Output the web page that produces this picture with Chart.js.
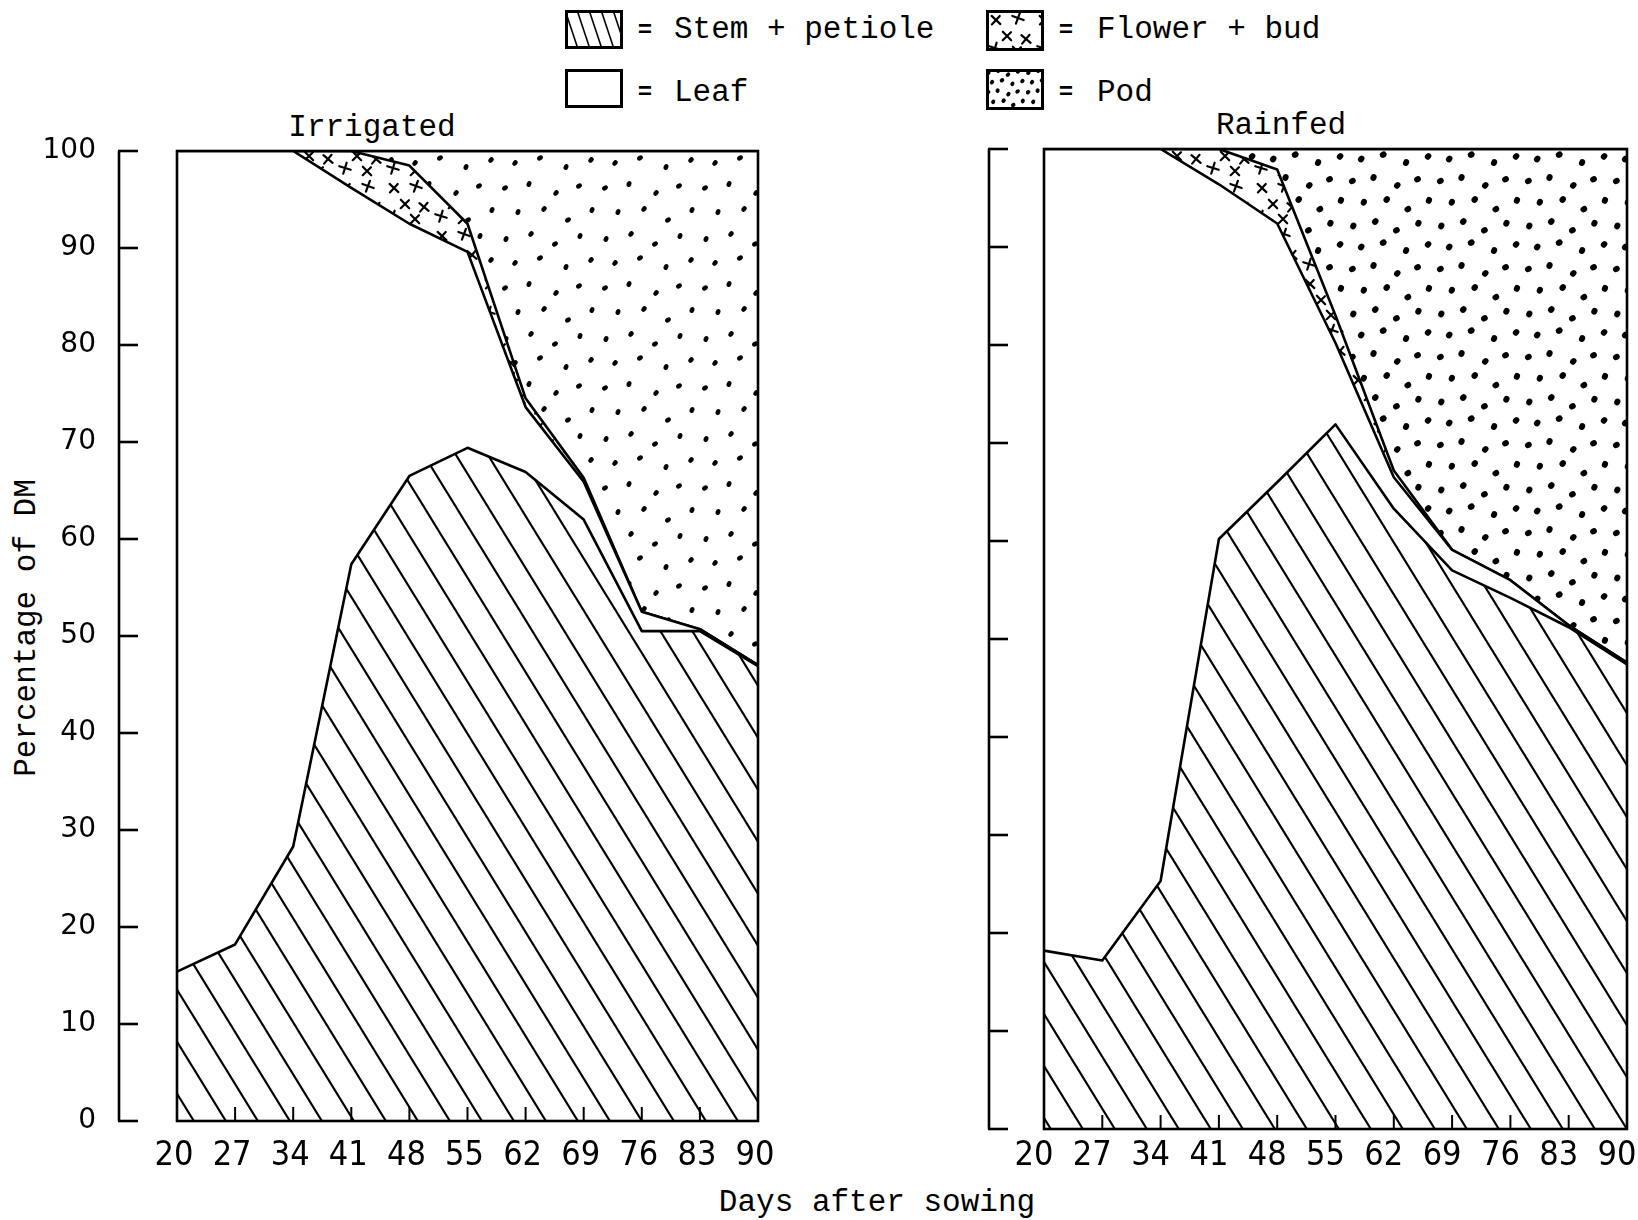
<!DOCTYPE html>
<html>
<head>
<meta charset="utf-8">
<script src="https://cdn.jsdelivr.net/npm/chart.js@4.4.1/dist/chart.umd.min.js"></script>
<style>
html,body{margin:0;padding:0;background:#fff;}
#page{position:relative;width:1638px;height:1220px;background:#fff;overflow:hidden;color:#000;
  font-family:"Liberation Mono","DejaVu Sans Mono",monospace;}
.t{position:absolute;white-space:nowrap;font-size:31px;line-height:1;}
.c{transform:translate(-50%,-50%);}
.l{transform:translateY(-50%);}
.eq{position:absolute;font-size:24px;font-weight:bold;line-height:1;transform:translate(-50%,-50%);}
canvas{position:absolute;display:block;}
</style>
</head>
<body>
<div id="page">
  <canvas id="swStem" width="58" height="39" style="left:565px;top:10px"></canvas>
  <canvas id="swLeaf" width="58" height="39" style="left:565px;top:69px"></canvas>
  <canvas id="swFlower" width="58" height="41" style="left:986px;top:10px"></canvas>
  <canvas id="swPod" width="58" height="41" style="left:986px;top:69px"></canvas>
  <div class="eq" style="left:645px;top:31px">=</div>
  <div class="eq" style="left:645px;top:93px">=</div>
  <div class="eq" style="left:1066px;top:31px">=</div>
  <div class="eq" style="left:1066px;top:93px">=</div>
  <div class="t l" id="lg0" style="left:674px;top:29px"></div>
  <div class="t l" id="lg1" style="left:674px;top:92px"></div>
  <div class="t l" id="lg2" style="left:1097px;top:29px"></div>
  <div class="t l" id="lg3" style="left:1097px;top:92px"></div>
  <div class="t c" id="title0" style="left:372px;top:127px"></div>
  <div class="t c" id="title1" style="left:1281px;top:125px"></div>
  <div class="t c" id="ytitle" style="left:26px;top:628px;transform:translate(-50%,-50%) rotate(-90deg)"></div>
  <div class="t c" id="xtitle" style="left:877px;top:1202px"></div>
  <canvas id="chartIrr" width="800" height="1090" style="left:0px;top:130px;width:800px;height:1090px"></canvas>
  <canvas id="chartRain" width="818" height="1090" style="left:820px;top:130px;width:818px;height:1090px"></canvas>
</div>
<script>
// ---------------- data ----------------
const days = [20, 27, 34, 41, 48, 55, 62, 69, 76, 83, 90];
const dayTickLabels = ['20', '27', '34', '41', '48', '55', '62', '69', '76', '83', '90'];
const percentTicks = [0, 10, 20, 30, 40, 50, 60, 70, 80, 90, 100];
const seriesNames = ['Stem + petiole', 'Leaf', 'Flower + bud', 'Pod'];
const panelTitles = ['Irrigated', 'Rainfed'];
const yAxisTitle = 'Percentage of DM';
const xAxisTitle = 'Days after sowing';

// Irrigated (% of dry matter)
const irrigatedStem   = [15.4, 18.2, 28.3, 57.4, 66.5, 69.4, 66.9, 62.0, 50.5, 50.5, 46.9];
const irrigatedLeaf   = [84.6, 81.8, 71.7, 38.8, 26.0, 20.2, 6.7, 3.9, 2.0, 0.2, 0.1];
const irrigatedFlower = [0, 0, 0, 3.8, 6.0, 2.9, 0.9, 0.4, 0, 0, 0];
const irrigatedPod    = [0, 0, 0, 0, 1.5, 7.5, 25.5, 33.7, 47.5, 49.3, 53.0];

// Rainfed (% of dry matter)
const rainfedStem   = [18.2, 17.2, 25.3, 60.2, 66.0, 71.9, 63.3, 57.0, 54.2, 51.2, 47.4];
const rainfedLeaf   = [81.8, 82.8, 74.7, 36.2, 26.4, 8.3, 3.2, 2.1, 1.8, 0.2, 0.2];
const rainfedFlower = [0, 0, 0, 3.6, 5.5, 2.8, 0.7, 0, 0, 0, 0];
const rainfedPod    = [0, 0, 0, 0, 2.1, 17.0, 32.8, 40.9, 44.0, 48.6, 52.4];

// ---------------- texts ----------------
seriesNames.forEach((n, i) => document.getElementById('lg' + i).textContent = n);
document.getElementById('title0').textContent = panelTitles[0];
document.getElementById('title1').textContent = panelTitles[1];
document.getElementById('ytitle').textContent = yAxisTitle;
document.getElementById('xtitle').textContent = xAxisTitle;

// ---------------- fill patterns ----------------
function hatchTile() {
  const c = document.createElement('canvas'); c.width = 32; c.height = 52;
  const g = c.getContext('2d');
  g.strokeStyle = '#000'; g.lineWidth = 2.2;
  for (let k = -2; k <= 2; k++) {
    g.beginPath();
    g.moveTo(k * 32 - 32, -52);
    g.lineTo(k * 32 + 64, 104);
    g.stroke();
  }
  return c;
}
function crossTile() {
  const c = document.createElement('canvas'); c.width = 48; c.height = 48;
  const g = c.getContext('2d');
  g.strokeStyle = '#000'; g.lineWidth = 2.2; g.lineCap = 'round';
  const marks = [[10, 10, 0.75], [32, 8, 0.35], [21, 26, 0.8], [40, 29, 0.7], [9, 38, 0.3], [31, 41, 0.8]];
  marks.forEach(([x, y, a]) => {
    g.save(); g.translate(x, y); g.rotate(a);
    g.beginPath(); g.moveTo(-6, 0); g.lineTo(6, 0); g.moveTo(0, -5.5); g.lineTo(0, 6); g.stroke();
    g.restore();
  });
  return c;
}
function dotTile(size, rx, ry) {
  const c = document.createElement('canvas'); c.width = size; c.height = size;
  const g = c.getContext('2d'); g.fillStyle = '#000';
  const pts = [[6, 9], [31, 4], [55, 14], [80, 6], [15, 33], [40, 28], [66, 37], [91, 30],
               [5, 58], [29, 54], [56, 63], [79, 56], [18, 82], [44, 79], [68, 90], [92, 80]];
  const s = size / 100;
  pts.forEach(([x, y], i) => {
    g.beginPath();
    g.ellipse(x * s, y * s, rx, ry, 0.4 + (i % 3) * 0.3, 0, Math.PI * 2);
    g.fill();
  });
  return c;
}
const tmp = document.createElement('canvas').getContext('2d');
const hatchPat = tmp.createPattern(hatchTile(), 'repeat');
const crossPat = tmp.createPattern(crossTile(), 'repeat');
const dotPatL = tmp.createPattern(dotTile(100, 2.3, 3.1), 'repeat');
const dotPatR = tmp.createPattern(dotTile(88, 3.0, 3.5), 'repeat');

// legend swatches
(function(){
  const mk = (id, tile) => {
    const cv = document.getElementById(id), g = cv.getContext('2d');
    g.fillStyle = '#fff'; g.fillRect(0, 0, cv.width, cv.height);
    if (tile) { g.fillStyle = g.createPattern(tile, 'repeat'); g.fillRect(0, 0, cv.width, cv.height); }
    g.strokeStyle = '#000'; g.lineWidth = 3;
    g.strokeRect(1.5, 1.5, cv.width - 3, cv.height - 3);
  };
  const smallHatch = (() => { const c = document.createElement('canvas'); c.width = 12; c.height = 36;
    const g = c.getContext('2d'); g.strokeStyle = '#000'; g.lineWidth = 1.6;
    for (let k = -2; k <= 2; k++) { g.beginPath(); g.moveTo(k * 12 - 12, -36); g.lineTo(k * 12 + 24, 72); g.stroke(); }
    return c; })();
  mk('swStem', smallHatch);
  mk('swLeaf', null);
  mk('swFlower', crossTile());
  mk('swPod', dotTile(40, 2.0, 2.4));
})();

// ---------------- frame / detached axis plugin ----------------
function framePlugin(axisX, tickLen) {
  return {
    id: 'frame',
    afterDatasetsDraw(chart) {
      const { ctx, chartArea: a } = chart;
      const x = chart.scales.x, y = chart.scales.y;
      ctx.save();
      ctx.strokeStyle = '#000';
      ctx.lineWidth = 2.6;
      ctx.strokeRect(a.left, a.top, a.right - a.left, a.bottom - a.top);
      ctx.lineWidth = 2;
      dayTickLabels.forEach((lab, i) => {
        const px = x.getPixelForTick(i);
        ctx.beginPath(); ctx.moveTo(px, a.bottom); ctx.lineTo(px, a.bottom - 14); ctx.stroke();
      });
      ctx.lineWidth = 2.6;
      ctx.beginPath();
      ctx.moveTo(axisX, y.getPixelForValue(100));
      ctx.lineTo(axisX, y.getPixelForValue(0));
      ctx.stroke();
      percentTicks.forEach(v => {
        const py = y.getPixelForValue(v);
        ctx.beginPath(); ctx.moveTo(axisX - 1, py); ctx.lineTo(axisX + tickLen, py); ctx.stroke();
      });
      ctx.restore();
    }
  };
}

function ds(label, data, fill, bg) {
  return { label, data, fill, backgroundColor: bg, borderColor: '#000', borderWidth: 2.6,
           pointRadius: 0, pointHoverRadius: 0, tension: 0, borderJoinStyle: 'round' };
}

function buildChart(id, c) {
  return new Chart(document.getElementById(id), {
    type: 'line',
    data: {
      labels: dayTickLabels,
      datasets: [
        ds(seriesNames[0], c.stem, 'origin', hatchPat),
        ds(seriesNames[1], c.leaf, '-1', '#ffffff'),
        ds(seriesNames[2], c.flower, '-1', crossPat),
        ds(seriesNames[3], c.pod, '-1', c.dots)
      ]
    },
    options: {
      responsive: false, animation: false, devicePixelRatio: 1,
      layout: { padding: { left: 0, right: c.padRight, top: c.padTop, bottom: 0 } },
      scales: {
        x: {
          type: 'category', offset: false,
          grid: { display: false, drawTicks: false }, border: { display: false },
          ticks: { autoSkip: false, maxRotation: 0, minRotation: 0, padding: c.xPad, labelOffset: c.labelOffset,
                   color: '#000', font: { family: '"Liberation Sans Narrow","DejaVu Sans Condensed","Liberation Sans",sans-serif', size: 34, lineHeight: 1 } },
          afterFit(s) { s.height = c.xHeight; s.paddingLeft = 0; s.paddingRight = 0; }
        },
        y: {
          stacked: true, min: 0, max: 100,
          grid: { display: false, drawTicks: false }, border: { display: false },
          afterBuildTicks(s) { s.ticks = percentTicks.map(v => ({ value: v })); },
          ticks: { display: c.showY, padding: c.yPad, color: '#000',
                   font: { family: '"DejaVu Sans",sans-serif', size: 28, lineHeight: 1 } },
          afterFit(s) { s.width = c.yWidth; s.paddingTop = 0; s.paddingBottom = 0; }
        }
      },
      plugins: { legend: { display: false }, tooltip: { enabled: false }, title: { display: false } }
    },
    plugins: [framePlugin(c.axisX, c.tickLen)]
  });
}

buildChart('chartIrr', {
  stem: irrigatedStem, leaf: irrigatedLeaf, flower: irrigatedFlower, pod: irrigatedPod, dots: dotPatL,
  padRight: 42, padTop: 21, xHeight: 99, xPad: 18, labelOffset: -3,
  yWidth: 177, yPad: 81, showY: true, axisX: 119, tickLen: 19
});
buildChart('chartRain', {
  stem: rainfedStem, leaf: rainfedLeaf, flower: rainfedFlower, pod: rainfedPod, dots: dotPatR,
  padRight: 11, padTop: 19, xHeight: 91, xPad: 10, labelOffset: -10,
  yWidth: 224, yPad: 10, showY: false, axisX: 169, tickLen: 19
});
</script>
</body>
</html>
